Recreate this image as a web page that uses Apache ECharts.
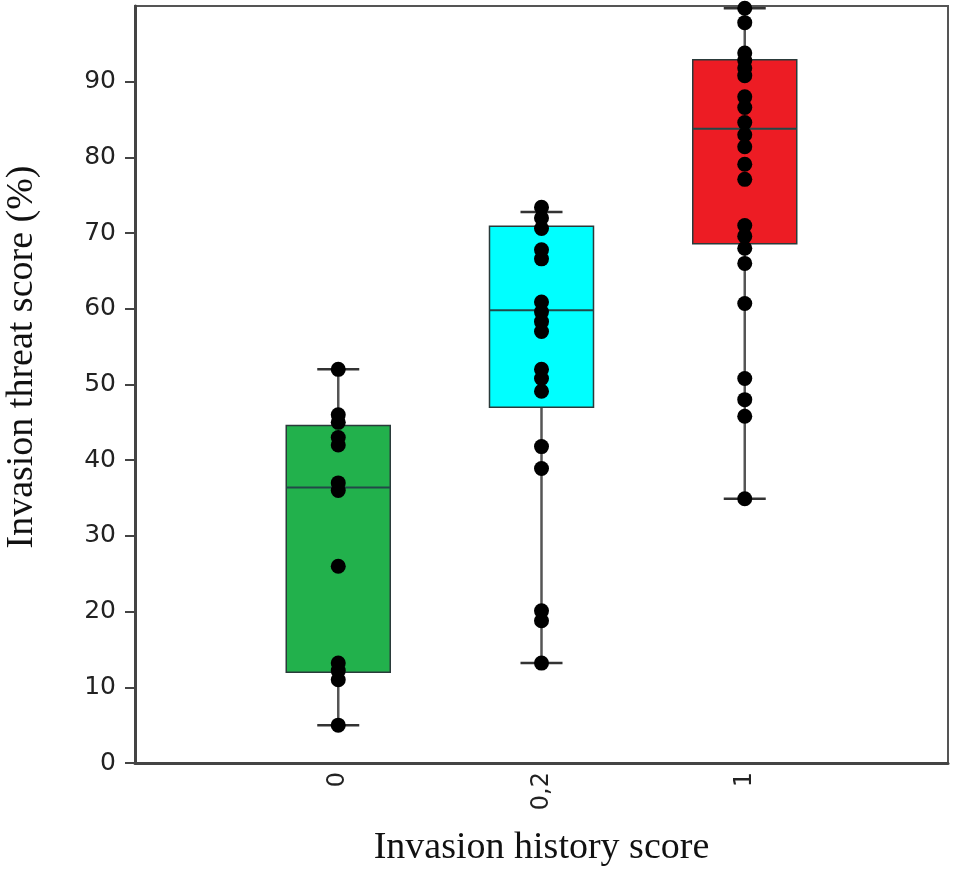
<!DOCTYPE html>
<html>
<head>
<meta charset="utf-8">
<script src="https://cdn.jsdelivr.net/npm/echarts@6/dist/echarts.min.js"></script>
<style>
  html, body { margin: 0; padding: 0; background: #fff; }
  #main { width: 955px; height: 870px; }
</style>
</head>
<body>
<div id="main"></div>
<script>
// categories on the x axis (padded with empty slots so the boxes sit at quarters)
const categories = ['0', '0,2', '1'];
const boxColors = ['#22b14c', '#00ffff', '#ed1c24'];

// [min, Q1, median, Q3, max]
const boxStats = [
  [5, 12, 36.4, 44.6, 52],
  [13.2, 47, 59.8, 70.9, 72.8],
  [34.9, 68.6, 83.8, 92.9, 99.7]
];

// individual scores per category
const pts0 = [52, 46, 45, 43, 42, 37, 36, 26, 13.2, 12.2, 11, 5];
const pts02 = [73.4, 72, 70.6, 67.8, 66.6, 60.9, 59.6, 58.3, 57, 52, 50.8, 49.1, 41.8, 38.9, 20.1, 18.8, 13.2];
const pts1 = [99.7, 97.8, 93.8, 92.8, 91.8, 90.8, 88, 86.6, 84.6, 83, 81.4, 79.1, 77.1, 71, 69.6, 68, 66, 60.7, 50.8, 48, 45.8, 34.9];

const yTicks = [0, 10, 20, 30, 40, 50, 60, 70, 80, 90];

const axisCats = [''].concat(categories, ['']);
const boxData = categories.map((c, i) => [c].concat(boxStats[i]));
const scatterData = [];
[pts0, pts02, pts1].forEach((arr, i) => arr.forEach(v => scatterData.push([categories[i], v])));

const chart = echarts.init(document.getElementById('main'));
chart.setOption({
  animation: false,
  grid: {
    left: 135, right: 7, top: 6, bottom: 107,
    outerBoundsMode: 'none',
    containLabel: false,
    show: true, borderColor: '#555', borderWidth: 2, backgroundColor: '#fff'
  },
  xAxis: {
    type: 'category',
    data: axisCats,
    boundaryGap: false,
    name: 'Invasion history score',
    nameLocation: 'middle',
    nameGap: 66,
    nameTextStyle: { fontFamily: 'Liberation Serif', fontSize: 38, color: '#111' },
    axisLine: { lineStyle: { color: '#444', width: 3 } },
    axisTick: { show: false },
    axisLabel: {
      interval: 0, rotate: 90, margin: 9,
      fontFamily: 'DejaVu Sans', fontSize: 24, color: '#222'
    },
    splitLine: { show: false }
  },
  yAxis: {
    type: 'value',
    min: 0, max: 100, interval: 10,
    axisLine: { show: true, lineStyle: { color: '#444', width: 3 } },
    axisTick: { show: true, length: 10, customValues: yTicks, lineStyle: { color: '#444', width: 2 } },
    axisLabel: {
      margin: 19, fontFamily: 'DejaVu Sans', fontSize: 25, color: '#222',
      customValues: yTicks
    },
    splitLine: { show: false }
  },
  graphic: [{
    type: 'text',
    x: 22, y: 357,
    rotation: Math.PI / 2,
    style: {
      text: 'Invasion threat score (%)',
      fontFamily: 'Liberation Serif', fontSize: 38, fill: '#111',
      align: 'center', verticalAlign: 'middle'
    }
  }],
  series: [
    {
      type: 'custom',
      data: boxData,
      encode: { x: 0, y: [1, 2, 3, 4, 5] },
      z: 2,
      renderItem: function (params, api) {
        const x = api.value(0);
        const pMin = api.coord([x, api.value(1)]);
        const pQ1 = api.coord([x, api.value(2)]);
        const pMed = api.coord([x, api.value(3)]);
        const pQ3 = api.coord([x, api.value(4)]);
        const pMax = api.coord([x, api.value(5)]);
        const half = 52, cap = 21;
        const cx = pMed[0];
        const lineStyle = { stroke: '#555', lineWidth: 2.5 };
        return {
          type: 'group',
          children: [
            { type: 'line', shape: { x1: cx, y1: pMin[1], x2: cx, y2: pQ1[1] }, style: lineStyle },
            { type: 'line', shape: { x1: cx, y1: pQ3[1], x2: cx, y2: pMax[1] }, style: lineStyle },
            { type: 'line', shape: { x1: cx - cap, y1: pMin[1], x2: cx + cap, y2: pMin[1] }, style: { stroke: '#333', lineWidth: 2.5 } },
            { type: 'line', shape: { x1: cx - cap, y1: pMax[1], x2: cx + cap, y2: pMax[1] }, style: { stroke: '#333', lineWidth: 2.5 } },
            {
              type: 'rect',
              shape: { x: cx - half, y: pQ3[1], width: half * 2, height: pQ1[1] - pQ3[1] },
              style: { fill: boxColors[params.dataIndex], stroke: '#2a3a3a', lineWidth: 1.5 }
            },
            { type: 'line', shape: { x1: cx - half, y1: pMed[1], x2: cx + half, y2: pMed[1] }, style: { stroke: '#224848', lineWidth: 2 } }
          ]
        };
      }
    },
    {
      type: 'scatter',
      data: scatterData,
      symbol: 'circle',
      symbolSize: 15,
      z: 3,
      itemStyle: { color: '#000', opacity: 1 }
    }
  ]
});
</script>
</body>
</html>
